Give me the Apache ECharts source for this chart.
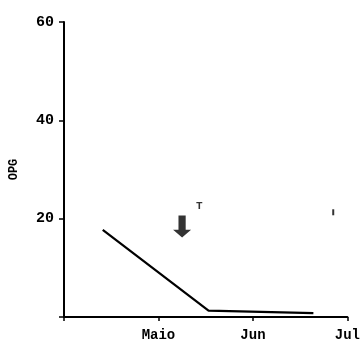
<!DOCTYPE html>
<html><head><meta charset="utf-8">
<script src="https://cdn.jsdelivr.net/npm/echarts@6/dist/echarts.min.js"></script>
<style>html,body{margin:0;padding:0;background:#fff}#c{width:363px;height:344px}</style>
</head><body><div id="c"></div>
<script>
// x in months since 1 Abr (0=Abr, 1=Maio, 2=Jun, 3=Jul)
var monthTicks = ['', 'Maio', 'Jun', 'Jul'];
var yTicks = [0, 20, 40, 60];
var opgX = [0.41, 1.53, 2.64];
var opgY = [17.7, 1.3, 0.8];
var arrowX = [1.25];
var arrowY = [18.4];
var arrowLabel = ['T'];
var specX = [2.85];
var specY = [21.3];

var chart = echarts.init(document.getElementById('c'), null, {renderer: 'canvas'});
var font = '"Liberation Mono", "DejaVu Sans Mono", monospace';
chart.setOption({
  animation: false,
  backgroundColor: '#fff',
  grid: {left: 63, right: 10, top: 22, bottom: 27},
  xAxis: {
    type: 'value', min: 0, max: 3, interval: 1,
    axisLine: {lineStyle: {color: '#000', width: 2}},
    axisTick: {show: true, length: 4, lineStyle: {color: '#000', width: 1.5}},
    splitLine: {show: false},
    axisLabel: {color: '#000', fontFamily: font, fontWeight: 'bold', fontSize: 14, margin: 11,
      formatter: function (v) { return monthTicks[Math.round(v)] || ''; }}
  },
  yAxis: {
    type: 'value', min: 0, max: 60, interval: 20,
    name: 'OPG', nameLocation: 'middle', nameGap: 44, nameRotate: 90,
    nameTextStyle: {color: '#000', fontFamily: font, fontWeight: 'bold', fontSize: 12},
    axisLine: {lineStyle: {color: '#000', width: 2}},
    axisTick: {show: true, length: 5, lineStyle: {color: '#000', width: 1.5}},
    splitLine: {show: false},
    axisLabel: {color: '#000', fontFamily: font, fontWeight: 'bold', fontSize: 15, margin: 10,
      formatter: function (v) { return v === 0 ? '' : String(v); }}
  },
  series: [
    {type: 'line', data: opgX.map(function (x, i) { return [x, opgY[i]]; }),
     symbol: 'none', lineStyle: {color: '#000', width: 2.2}},
    {type: 'scatter', data: arrowX.map(function (x, i) { return [x, arrowY[i]]; }),
     symbol: 'path://M3,0 L7,0 L7,11 L10,11 L5,17 L0,11 L3,11 Z', symbolSize: [18, 22],
     itemStyle: {color: '#000'},
     label: {show: true, position: 'right', offset: [0, -20], color: '#000',
       fontFamily: font, fontWeight: 'bold', fontSize: 11,
       formatter: function (p) { return arrowLabel[p.dataIndex]; }}},
    {type: 'scatter', data: specX.map(function (x, i) { return [x, specY[i]]; }),
     symbol: 'rect', symbolSize: [2, 6], itemStyle: {color: '#000'}}
  ]
});
</script></body></html>
